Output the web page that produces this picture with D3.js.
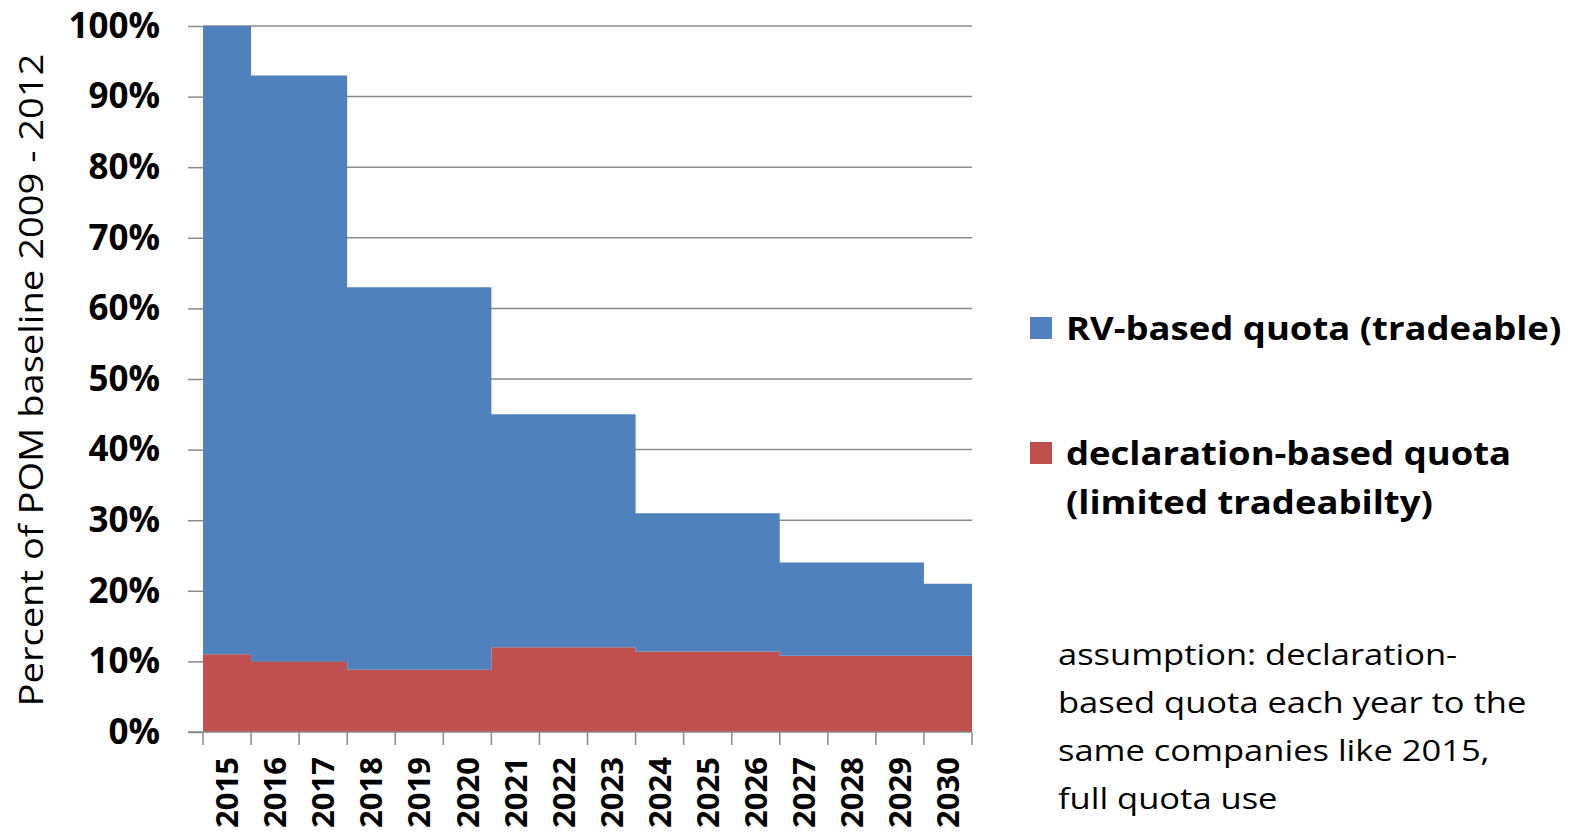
<!DOCTYPE html>
<html>
<head>
<meta charset="utf-8">
<script src="https://cdn.jsdelivr.net/npm/d3@7"></script>
<style>
  html, body { margin: 0; padding: 0; background: #fff; }
  svg { display: block; font-family: "Open Sans", Lato, sans-serif; }
</style>
</head>
<body>
<div id="chart"></div>
<script>
// values (percent of POM baseline)
const years = ["2015", "2016", "2017", "2018", "2019", "2020", "2021", "2022",
               "2023", "2024", "2025", "2026", "2027", "2028", "2029", "2030"];
const declarationQuota = [11, 10, 10, 8.8, 8.8, 8.8, 12, 12, 12, 11.4, 11.4, 11.4, 10.8, 10.8, 10.8, 10.8];
const rvQuota = [89, 83, 83, 54.2, 54.2, 54.2, 33, 33, 33, 19.6, 19.6, 19.6, 13.2, 13.2, 13.2, 10.2];
const yTicks = [0, 10, 20, 30, 40, 50, 60, 70, 80, 90, 100];
const seriesNames = ["declaration", "rv"];
const seriesColors = { declaration: "#C0504D", rv: "#4F81BD" };
const legendItems = [
    { key: "rv", lines: ["RV-based quota (tradeable)"] },
    { key: "declaration", lines: ["declaration-based quota", "(limited tradeabilty)"] }
];
const noteLines = ["assumption: declaration-", "based quota each year to the",
                   "same companies like 2015,", "full quota use"];

const width = 1570, height = 832;
const margin = { top: 26, right: 598, bottom: 100, left: 203 };
// the reference text is a little wider than Open Sans, stretch it sideways
const stretch = 1.14;

const table = years.map((y, i) => ({ year: y, declaration: declarationQuota[i], rv: rvQuota[i] }));
const stacked = d3.stack().keys(seriesNames)(table);

const xScale = d3.scaleBand()
    .domain(years)
    .range([margin.left, width - margin.right])
    .padding(0);

const yScale = d3.scaleLinear()
    .domain([0, 100])
    .range([height - margin.bottom, margin.top]);

const svg = d3.select("#chart")
    .append("svg")
    .attr("width", width)
    .attr("height", height)
    .attr("viewBox", [0, 0, width, height]);

// gridlines
svg.append("g")
    .selectAll("line")
    .data(yTicks.filter(d => d > 0))
    .join("line")
    .attr("x1", margin.left)
    .attr("x2", width - margin.right)
    .attr("y1", d => yScale(d))
    .attr("y2", d => yScale(d))
    .attr("stroke", "#8a8a8a")
    .attr("stroke-width", 1.5);

// step areas: each year's value holds across its band
const xEnd = xScale.range()[1];
const area = d3.area()
    .curve(d3.curveStepAfter)
    .x((d, i) => i < years.length ? xScale(years[i]) : xEnd)
    .y0(d => yScale(d[0]))
    .y1(d => yScale(d[1]));

svg.append("g")
    .selectAll("path")
    .data(stacked)
    .join("path")
    .attr("fill", d => seriesColors[d.key])
    .attr("d", d => area([...d, d[d.length - 1]]));

// y axis
const yAxis = g => g
    .attr("transform", `translate(${margin.left},0)`)
    .call(d3.axisLeft(yScale)
        .tickValues(yTicks)
        .tickSize(15)
        .tickPadding(28)
        .tickFormat(d => d + "%"))
    .call(g => g.select(".domain").remove())
    .call(g => g.selectAll(".tick line").attr("stroke", "#8a8a8a").attr("stroke-width", 1.5))
    .call(g => g.selectAll(".tick text")
        .attr("fill", "#000")
        .attr("font-size", 35)
        .attr("font-weight", "bold")
        .attr("font-family", "'Open Sans', sans-serif"));

svg.append("g").call(yAxis);

// x axis: ticks on band boundaries
const xAxisY = yScale(0);
const xg = svg.append("g");
xg.append("line")
    .attr("x1", margin.left - 15)
    .attr("x2", xEnd)
    .attr("y1", xAxisY)
    .attr("y2", xAxisY)
    .attr("stroke", "#8a8a8a")
    .attr("stroke-width", 1.5);

xg.selectAll(".boundary")
    .data([...years.map(y => xScale(y)), xEnd])
    .join("line")
    .attr("class", "boundary")
    .attr("x1", d => d)
    .attr("x2", d => d)
    .attr("y1", xAxisY)
    .attr("y2", xAxisY + 13)
    .attr("stroke", "#8a8a8a")
    .attr("stroke-width", 1.5);

xg.selectAll("text")
    .data(years)
    .join("text")
    .attr("transform", d => `translate(${xScale(d) + xScale.bandwidth() / 2},${xAxisY + 25}) rotate(-90)`)
    .attr("text-anchor", "end")
    .attr("dy", "0.36em")
    .attr("font-size", 31)
    .attr("font-weight", "bold")
    .text(d => d);

// y title
svg.append("text")
    .attr("transform", `translate(43,${(55 + 705) / 2}) rotate(-90) scale(${stretch + 0.015},1)`)
    .attr("text-anchor", "middle")
    .attr("font-size", 33)
    .text("Percent of POM baseline 2009 - 2012");

// legend
const legend = svg.append("g")
    .selectAll("g")
    .data(legendItems)
    .join("g")
    .attr("transform", (d, i) => `translate(1030,${i === 0 ? 317 : 442})`);

legend.append("rect")
    .attr("width", 22)
    .attr("height", 22)
    .attr("fill", d => seriesColors[d.key]);

legend.append("text")
    .attr("transform", `translate(36,0) scale(${stretch},1)`)
    .attr("font-size", 32)
    .attr("font-weight", "bold")
    .selectAll("tspan")
    .data(d => d.lines)
    .join("tspan")
    .attr("x", 0)
    .attr("y", (d, i) => 23 + i * 49)
    .text(d => d);

// note
svg.append("text")
    .attr("transform", `translate(1058,0) scale(1.15,1)`)
    .attr("font-size", 30)
    .selectAll("tspan")
    .data(noteLines)
    .join("tspan")
    .attr("x", 0)
    .attr("y", (d, i) => 665 + i * 48)
    .text(d => d);
</script>
</body>
</html>
